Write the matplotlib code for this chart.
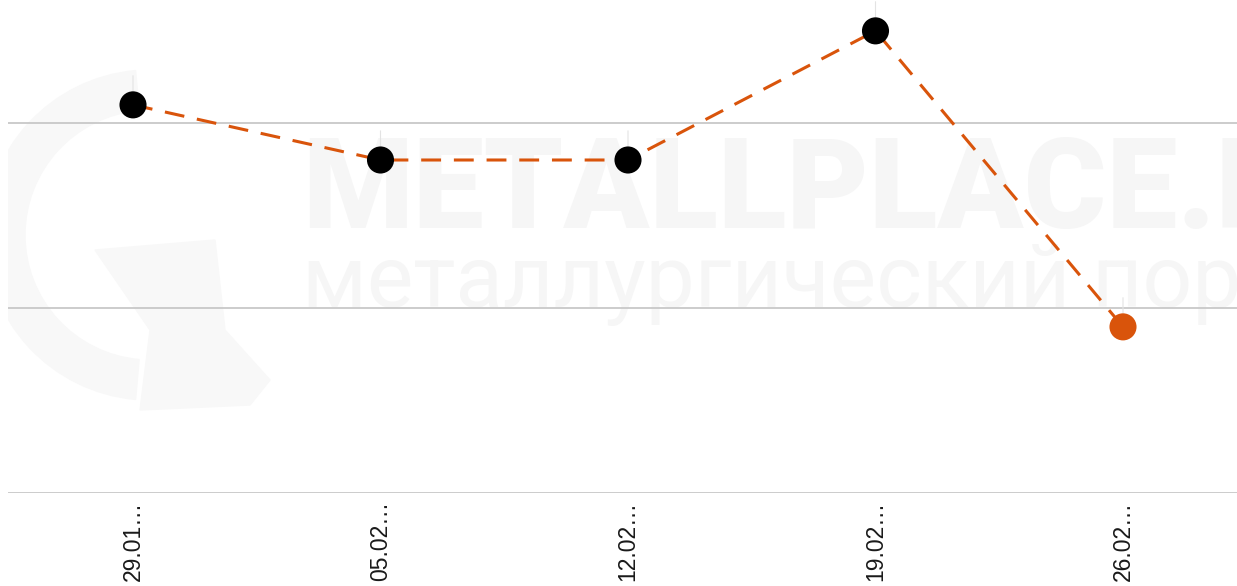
import numpy as np
import matplotlib.pyplot as plt
from matplotlib.patches import Wedge, Polygon
from matplotlib.transforms import IdentityTransform

plt.rcParams['font.family'] = ['Liberation Sans', 'DejaVu Sans']

# data
dates = ['29.01…', '05.02…', '12.02…', '19.02…', '26.02…']
values = [1049, 900, 900, 1249, 449]
grid_ticks = [0, 500, 1000]

orange = '#d9540b'
W, H = 1237, 586

fig = plt.figure(figsize=(W / 100, H / 100), dpi=100)
ax = fig.add_axes([8 / W, 93 / H, 1 - 8 / W, 493 / H])

# faint watermark (logo + site name), logo drawn in pixel coords
wm = '#f6f6f6'
logo = '#f8f8f8'
ax.add_patch(Wedge((150, H - 235), 165, 95, 265, width=40,
                   transform=IdentityTransform(), color=logo, zorder=0))
ax.add_patch(Polygon([[95, H - 250], [215, H - 240], [225, H - 330],
                      [270, H - 380], [250, H - 405], [140, H - 410],
                      [150, H - 330]], closed=True,
                     transform=IdentityTransform(), color=logo, zorder=0))
ax.text(0.2392, 0.5375, 'METALLPLACE.RU', transform=ax.transAxes,
        fontsize=91, fontweight='heavy', family='Roboto', color=wm,
        va='baseline', ha='left', zorder=0, clip_on=True)
ax.text(0.2392, 0.3773, 'металлургический портал', transform=ax.transAxes,
        fontsize=63, fontweight='normal', family='Roboto', color=wm,
        va='baseline', ha='left', zorder=0, clip_on=True)

x = np.arange(len(dates))
ax.plot(x, values, color=orange, lw=2.2, dashes=(6.5, 4.2), zorder=3)
colors = ['black'] * (len(values) - 1) + [orange]
ax.scatter(x, values, s=19.5 ** 2, c=colors, zorder=4, linewidths=0)

# thin leader stems above the points
for xi, v in zip(x, values):
    ax.annotate('', xy=(xi, v), xytext=(0, 21), textcoords='offset points',
                arrowprops=dict(arrowstyle='-', color='#e3e3e3', lw=0.8,
                                shrinkA=0, shrinkB=0), zorder=2)

ax.set_xlim(-125 / 247.5, (1229 - 125) / 247.5)
ax.set_ylim(0, 493 / 185 * 500)
ax.set_yticks(grid_ticks)
ax.yaxis.grid(True, color='#c8c8c8', lw=1.3)
ax.set_axisbelow(True)
ax.tick_params(axis='y', left=False, labelleft=False)
ax.set_xticks(x)
ax.set_xticklabels(dates, rotation=90, fontsize=16.5, color='#1a1a1a')
ax.tick_params(axis='x', length=0, pad=6)
for s in ax.spines.values():
    s.set_visible(False)
ax.patch.set_alpha(0)

fig.savefig('out.png', dpi=100)
